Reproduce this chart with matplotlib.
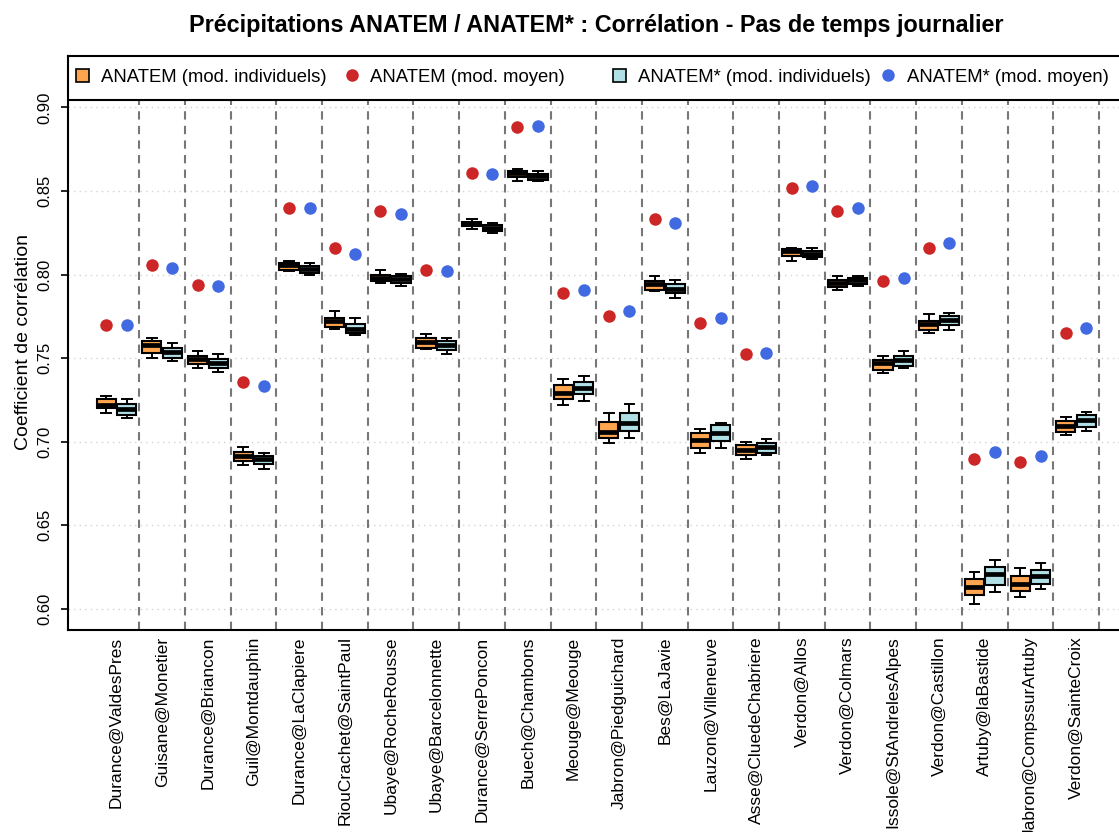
import numpy as np
import matplotlib
matplotlib.use('Agg')
import matplotlib.pyplot as plt
from matplotlib.patches import Patch
from matplotlib.lines import Line2D

plt.rcParams['font.family'] = ['Liberation Sans', 'DejaVu Sans']

stations = ['Durance@ValdesPres', 'Guisane@Monetier', 'Durance@Briancon', 'Guil@Montdauphin',
            'Durance@LaClapiere', 'RiouCrachet@SaintPaul', 'Ubaye@RocheRousse', 'Ubaye@Barcelonnette',
            'Durance@SerrePoncon', 'Buech@Chambons', 'Meouge@Meouge', 'Jabron@Piedguichard',
            'Bes@LaJavie', 'Lauzon@Villeneuve', 'Asse@CluedeChabriere', 'Verdon@Allos',
            'Verdon@Colmars', 'Issole@StAndrelesAlpes', 'Verdon@Castillon', 'Artuby@laBastide',
            'Jabron@CompssurArtuby', 'Verdon@SainteCroix']

# ANATEM (mod. individuels) : whisker low, q1, median, q3, whisker high
anatem_low = [0.717, 0.7502, 0.7442, 0.686, 0.802, 0.7677, 0.795, 0.7552, 0.8271, 0.856, 0.7221,
              0.6994, 0.790, 0.693, 0.6894, 0.8082, 0.791, 0.7412, 0.7651, 0.603, 0.607, 0.704]
anatem_q1 = [0.720, 0.7532, 0.7464, 0.6884, 0.803, 0.7687, 0.7962, 0.7558, 0.8289, 0.8584, 0.7253,
             0.7024, 0.791, 0.6964, 0.692, 0.811, 0.7926, 0.7428, 0.7671, 0.6084, 0.611, 0.706]
anatem_med = [0.722, 0.7578, 0.7492, 0.6914, 0.806, 0.7721, 0.7982, 0.7594, 0.8303, 0.861, 0.7293,
              0.706, 0.7942, 0.701, 0.695, 0.8139, 0.795, 0.7468, 0.7703, 0.613, 0.615, 0.7096]
anatem_q3 = [0.7253, 0.7602, 0.7512, 0.694, 0.807, 0.7743, 0.800, 0.7618, 0.8315, 0.862, 0.7339,
             0.7119, 0.7962, 0.705, 0.698, 0.8151, 0.7966, 0.7488, 0.7723, 0.618, 0.6196, 0.7123]
anatem_high = [0.7275, 0.7622, 0.7542, 0.6966, 0.8082, 0.7783, 0.803, 0.7643, 0.8331, 0.863, 0.7375,
               0.7173, 0.799, 0.7074, 0.700, 0.8159, 0.7992, 0.7514, 0.7761, 0.622, 0.6244, 0.7149]

# ANATEM* (mod. individuels)
star_low = [0.714, 0.748, 0.7418, 0.6836, 0.800, 0.7641, 0.793, 0.7522, 0.8249, 0.8558, 0.7243,
            0.7024, 0.786, 0.6964, 0.692, 0.809, 0.793, 0.7442, 0.7671, 0.610, 0.612, 0.7064]
star_q1 = [0.7159, 0.7498, 0.7442, 0.6864, 0.801, 0.7653, 0.795, 0.7548, 0.8259, 0.8568, 0.7283,
           0.7064, 0.789, 0.7006, 0.693, 0.8106, 0.7946, 0.7454, 0.7697, 0.6144, 0.615, 0.709]
star_med = [0.7193, 0.7538, 0.7468, 0.6894, 0.8036, 0.7677, 0.7972, 0.7578, 0.8281, 0.859, 0.7323,
            0.7114, 0.7916, 0.705, 0.6966, 0.8125, 0.7966, 0.7488, 0.7727, 0.6206, 0.6194, 0.7129]
star_q3 = [0.7223, 0.7562, 0.7494, 0.6914, 0.8054, 0.7703, 0.7992, 0.7602, 0.8299, 0.8604, 0.7359,
           0.7169, 0.7942, 0.710, 0.699, 0.8141, 0.798, 0.7512, 0.7751, 0.625, 0.623, 0.7159]
star_high = [0.7255, 0.7592, 0.7524, 0.6934, 0.807, 0.7743, 0.8002, 0.7621, 0.8309, 0.862, 0.7392,
             0.7223, 0.797, 0.7114, 0.7014, 0.816, 0.7992, 0.7542, 0.7771, 0.629, 0.6274, 0.7179]

# modele moyen
anatem_mean = [0.770, 0.806, 0.794, 0.7355, 0.840, 0.816, 0.838, 0.803, 0.861, 0.888, 0.789,
               0.775, 0.833, 0.771, 0.7524, 0.852, 0.838, 0.796, 0.816, 0.6894, 0.688, 0.765]
star_mean = [0.770, 0.804, 0.793, 0.7333, 0.840, 0.812, 0.836, 0.802, 0.860, 0.889, 0.791,
             0.778, 0.831, 0.774, 0.7532, 0.853, 0.840, 0.798, 0.819, 0.694, 0.6914, 0.768]

yticks = [0.60, 0.65, 0.70, 0.75, 0.80, 0.85, 0.90]

col_a = '#FFA54F'
col_s = '#B0E0E6'
col_ma = '#CD2626'
col_ms = '#4169E1'


def make_stats(lo, q1, med, q3, hi):
    return [dict(whislo=a, q1=b, med=c, q3=d, whishi=e)
            for a, b, c, d, e in zip(lo, q1, med, q3, hi)]


fig = plt.figure(figsize=(11.19, 8.32), dpi=100)
ax = fig.add_axes([68 / 1119, 1 - 629.5 / 832, (1125 - 68) / 1119, 574 / 832])

n = len(stations)
x = np.arange(1, n + 1)
off = 0.225
ybot, ytop, ysep = 0.5877, 0.931, 0.9044

ax.set_xlim(-0.06, 23.07)
ax.set_ylim(ybot, ytop)

for y in yticks:
    ax.axhline(y, color='#d3d3d3', lw=1.0, ls=(0, (1, 3)), zorder=0)
ax.vlines(np.arange(1.5, n + 1), ybot, ysep, colors='#777777', linestyles=(0, (4, 3)), lw=1.5, zorder=1)
ax.axhline(ysep, color='black', lw=1.5, zorder=3)

common = dict(widths=0.42, patch_artist=True, showfliers=False, capwidths=0.21,
              medianprops=dict(color='black', linewidth=3.4, solid_capstyle='butt'),
              whiskerprops=dict(color='black', linewidth=1.4),
              capprops=dict(color='black', linewidth=1.4), manage_ticks=False)
ax.bxp(make_stats(anatem_low, anatem_q1, anatem_med, anatem_q3, anatem_high), positions=x - off,
       boxprops=dict(facecolor=col_a, edgecolor='black', linewidth=1.5), **common)
ax.bxp(make_stats(star_low, star_q1, star_med, star_q3, star_high), positions=x + off,
       boxprops=dict(facecolor=col_s, edgecolor='black', linewidth=1.5), **common)

ax.plot(x - off, anatem_mean, 'o', color=col_ma, ms=9, mew=0, zorder=4)
ax.plot(x + off, star_mean, 'o', color=col_ms, ms=9, mew=0, zorder=4)

ax.set_xticks(x)
ax.set_xticklabels(stations, rotation=90, fontsize=12.5)
ax.tick_params(axis='x', length=0, pad=5)
ax.set_yticks(yticks)
ax.set_yticklabels(['%.2f' % v for v in yticks], rotation=90, va='center', fontsize=12)
ax.tick_params(axis='y', length=5, width=1.2, pad=6)
for s in ax.spines.values():
    s.set_linewidth(1.5)

ax.set_ylabel('Coefficient de corrélation', fontsize=14, labelpad=4)
ax.set_title('Précipitations ANATEM / ANATEM* : Corrélation - Pas de temps journalier',
             fontsize=16.8, fontweight='bold', pad=17)

leg_kw = dict(ncol=2, loc='center left', frameon=False, fontsize=13.3, borderpad=0,
              borderaxespad=0, handlelength=0.7, handleheight=0.7, handletextpad=0.65)
h1 = [Patch(facecolor=col_a, edgecolor='black', linewidth=1.2),
      Line2D([], [], ls='none', marker='o', color=col_ma, ms=9, mew=0)]
h2 = [Patch(facecolor=col_s, edgecolor='black', linewidth=1.2),
      Line2D([], [], ls='none', marker='o', color=col_ms, ms=9, mew=0)]
leg1 = ax.legend(h1, ['ANATEM (mod. individuels)', 'ANATEM (mod. moyen)'],
                 bbox_to_anchor=(0.0076, 0.9625), columnspacing=1.0, **leg_kw)
ax.add_artist(leg1)
ax.legend(h2, ['ANATEM* (mod. individuels)', 'ANATEM* (mod. moyen)'],
          bbox_to_anchor=(0.5156, 0.9625), columnspacing=0.6, **leg_kw)

fig.savefig('out.png', dpi=100)
